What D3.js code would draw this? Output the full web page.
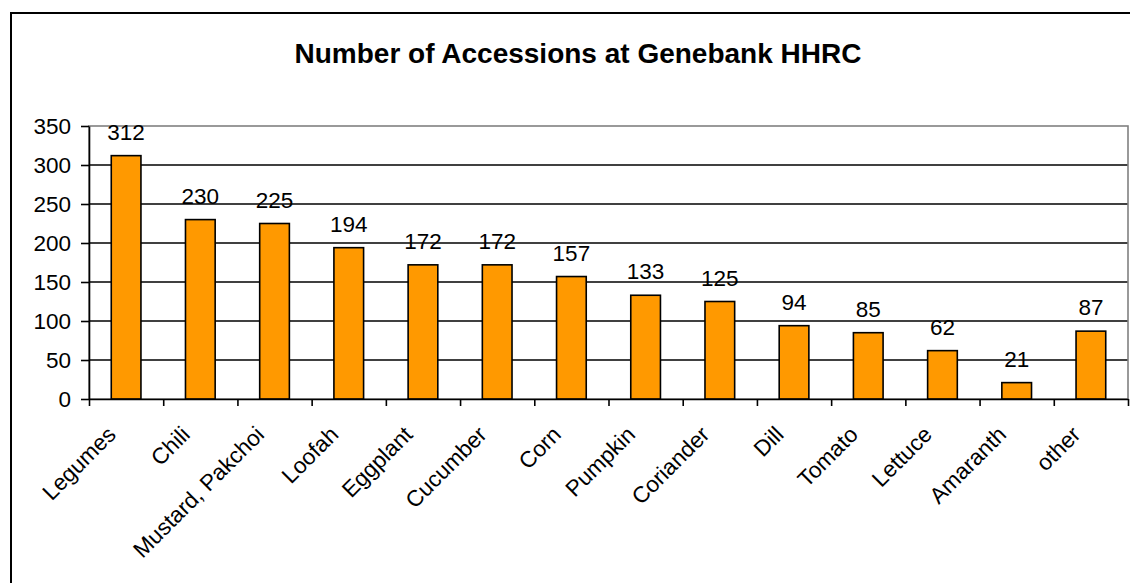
<!DOCTYPE html>
<html lang="en">
<head>
    <meta charset="UTF-8">
    <title>Number of Accessions at Genebank HHRC</title>
    <script src="https://cdn.jsdelivr.net/npm/d3@7"></script>
    <style>
        body { margin: 0; background: #fff; }
        svg { display: block; font-family: "Liberation Sans", Arial, sans-serif; }
        .title { font-size: 28px; font-weight: bold; }
        .lbl { font-size: 22.5px; fill: #000; }
    </style>
</head>
<body>
    <script>
        const categories = ["Legumes", "Chili", "Mustard, Pakchoi", "Loofah", "Eggplant", "Cucumber",
            "Corn", "Pumpkin", "Coriander", "Dill", "Tomato", "Lettuce", "Amaranth", "other"];
        const accessions = [312, 230, 225, 194, 172, 172, 157, 133, 125, 94, 85, 62, 21, 87];
        const yTicks = [0, 50, 100, 150, 200, 250, 300, 350];

        const width = 1130, height = 583;
        const plotLeft = 89, plotRight = 1128, plotTop = 126, plotBottom = 399;

        const svg = d3.select("body").append("svg")
            .attr("width", width)
            .attr("height", height);

        // outer chart frame (runs off the right and bottom of the picture)
        svg.append("rect")
            .attr("x", 11).attr("y", 13)
            .attr("width", 1140).attr("height", 600)
            .attr("fill", "none")
            .attr("stroke", "#000")
            .attr("stroke-width", 2);

        svg.append("text")
            .attr("class", "title")
            .attr("x", 578).attr("y", 63)
            .attr("text-anchor", "middle")
            .text("Number of Accessions at Genebank HHRC");

        const y = d3.scaleLinear().domain([0, 350]).range([plotBottom, plotTop]);
        const x = d3.scaleBand().domain(categories).range([plotLeft, plotRight])
            .paddingInner(0.6).paddingOuter(0.3);
        const edges = d3.scaleLinear().domain([0, categories.length]).range([plotLeft, plotRight]);

        // gridlines
        svg.append("g")
            .selectAll("line")
            .data(yTicks.filter(d => d > 0 && d < 350))
            .enter().append("line")
            .attr("x1", plotLeft).attr("x2", plotRight)
            .attr("y1", d => y(d)).attr("y2", d => y(d))
            .attr("stroke", "#000")
            .attr("stroke-width", 1.6);

        // plot area border
        svg.append("rect")
            .attr("x", plotLeft).attr("y", plotTop)
            .attr("width", plotRight - plotLeft).attr("height", plotBottom - plotTop)
            .attr("fill", "none")
            .attr("stroke", "#808080")
            .attr("stroke-width", 1.6);

        // bars
        svg.append("g")
            .selectAll("rect")
            .data(accessions)
            .enter().append("rect")
            .attr("x", (d, i) => x(categories[i]))
            .attr("y", d => y(d))
            .attr("width", x.bandwidth())
            .attr("height", d => y(0) - y(d))
            .attr("fill", "#FF9900")
            .attr("stroke", "#000")
            .attr("stroke-width", 1.6);

        // value labels
        svg.append("g")
            .selectAll("text")
            .data(accessions)
            .enter().append("text")
            .attr("class", "lbl")
            .attr("x", (d, i) => x(categories[i]) + x.bandwidth() / 2)
            .attr("y", d => y(d) - 16)
            .attr("text-anchor", "middle")
            .text(d => d);

        // y axis
        const yAxis = svg.append("g")
            .attr("transform", `translate(${plotLeft},0)`)
            .call(d3.axisLeft(y).tickValues(yTicks).tickSize(8).tickPadding(10).tickSizeOuter(0));
        yAxis.attr("font-family", null).attr("font-size", null);
        yAxis.selectAll("text").attr("class", "lbl");
        yAxis.selectAll("line, path").attr("stroke", "#000").attr("stroke-width", 1.6);

        // x axis, ticks between categories
        const xAxis = svg.append("g")
            .attr("transform", `translate(0,${plotBottom})`)
            .call(d3.axisBottom(edges).ticks(categories.length).tickSize(7).tickFormat("").tickSizeOuter(0));
        xAxis.selectAll("line, path").attr("stroke", "#000").attr("stroke-width", 1.6);

        // rotated category labels
        svg.append("g")
            .selectAll("text")
            .data(categories)
            .enter().append("text")
            .attr("class", "lbl")
            .attr("text-anchor", "end")
            .attr("transform", d => `translate(${x(d) + x.bandwidth() / 2 - 9},436) rotate(-45)`)
            .text(d => d);
    </script>
</body>
</html>
